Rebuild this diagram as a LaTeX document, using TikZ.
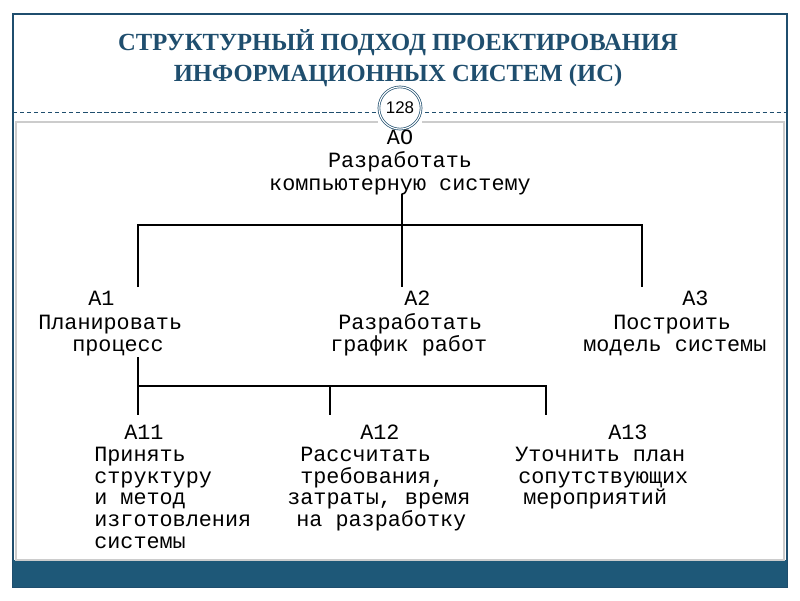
\documentclass[tikz,border=0pt]{standalone}
\usepackage{fontspec}
\setmainfont{Liberation Serif}
\setsansfont{Liberation Sans}
\newfontfamily\monof{Liberation Mono}
\definecolor{navy}{HTML}{1F4E6E}
\definecolor{barc}{HTML}{1E5878}
\begin{document}
\begin{tikzpicture}[x=0.025cm,y=-0.025cm,
  t/.style={font=\monof\fontsize{15.5}{18}\selectfont,anchor=base west,inner sep=0pt},
  ln/.style={line width=0.9pt,black}]
\useasboundingbox (0,0) rectangle (800,600);
\fill[white] (0,0) rectangle (800,600);
\draw[navy,line width=0.8pt] (13,14) rectangle (787,587);
\fill[barc] (13,560) rectangle (787,587);
\draw[gray!40,line width=1.5pt] (16,122) rectangle (784,560);
\draw[navy,densely dashed,line width=0.5pt] (13,112) -- (382,112) (418,112) -- (787,112);
\fill[white] (378,114) rectangle (422,126);
\node[circle,draw=navy,double=white,double distance=0.8pt,line width=0.5pt,minimum size=30pt,inner sep=0pt,fill=white,font=\sffamily\fontsize{12}{14}\selectfont] (pg) at (400,108) {128};
\node[font=\bfseries\fontsize{17.5}{22}\selectfont,text=navy,align=center] (title) at (398,58) {СТРУКТУРНЫЙ ПОДХОД ПРОЕКТИРОВАНИЯ\\ИНФОРМАЦИОННЫХ СИСТЕМ (ИС)};
% A0
\node[t,anchor=base] (a0a) at (400,144) {АО};
\node[t,anchor=base] (a0b) at (400,167) {Разработать};
\node[t,anchor=base] (a0c) at (400,190) {компьютерную систему};
% level 1
\node[t] (a1a) at (88,305) {А1};
\node[t] (a1b) at (38,329) {Планировать};
\node[t] (a1c) at (72,351) {процесс};
\node[t] (a2a) at (404,305) {А2};
\node[t] (a2b) at (338,329) {Разработать};
\node[t] (a2c) at (330,351) {график работ};
\node[t] (a3a) at (682,305) {А3};
\node[t] (a3b) at (613,329) {Построить};
\node[t] (a3c) at (583,351) {модель системы};
% level 2
\node[t] (a11a) at (124,439) {А11};
\node[t] (a11b) at (94,461) {Принять};
\node[t] (a11c) at (94,483) {структуру};
\node[t] (a11d) at (94,504) {и метод};
\node[t] (a11e) at (94,526) {изготовления};
\node[t] (a11f) at (94,548) {системы};
\node[t] (a12a) at (360,439) {А12};
\node[t] (a12b) at (300,461) {Рассчитать};
\node[t] (a12c) at (300,483) {требования,};
\node[t] (a12d) at (287,504) {затраты, время};
\node[t] (a12e) at (296,526) {на разработку};
\node[t] (a13a) at (608,439) {А13};
\node[t] (a13b) at (515,461) {Уточнить план};
\node[t] (a13c) at (518,483) {сопутствующих};
\node[t] (a13d) at (523,504) {мероприятий};
% connectors
\coordinate (j0) at (402,225);
\coordinate (j1) at (138,386);
\draw[ln] (402,194) -- (j0);
\draw[ln] (138,287) -- (138,225) -- (642,225) -- (642,287);
\draw[ln] (j0) -- (402,287);
\draw[ln] (138,357) -- (j1) -- (546,386) -- (546,415);
\draw[ln] (j1) -- (138,415);
\draw[ln] (330,386) -- (330,415);
\end{tikzpicture}
\end{document}
